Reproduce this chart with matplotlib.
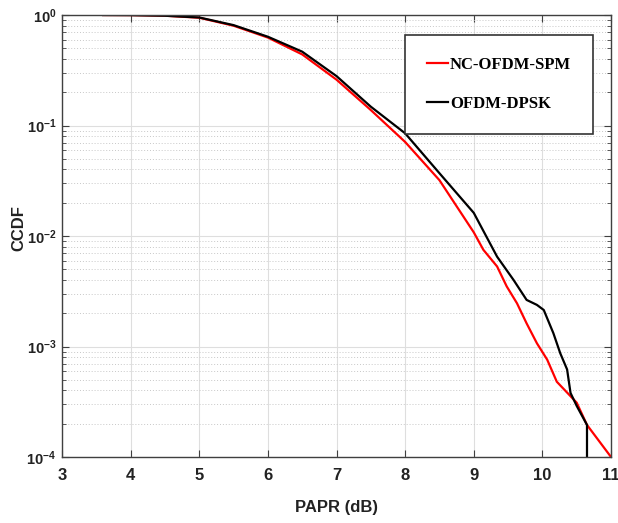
import numpy as np
import matplotlib.pyplot as plt
from matplotlib.ticker import LogLocator, NullFormatter

# data (PAPR in dB, CCDF)
papr_dpsk = [3.6, 4.0, 4.5, 5.0, 5.5, 6.0, 6.5, 7.0, 7.5, 8.0, 8.5, 9.0,
             9.34, 9.58, 9.77, 9.92, 10.02, 10.16, 10.26, 10.36, 10.41,
             10.50, 10.65, 10.65]
ccdf_dpsk = [1.0, 0.998, 0.985, 0.95, 0.81, 0.636, 0.466, 0.28, 0.148,
             0.085, 0.037, 0.0162, 0.0065, 0.0040, 0.00264, 0.00238,
             0.00214, 0.00132, 0.00087, 0.00062, 0.00038, 0.00029,
             0.000195, 0.0001]

papr_spm = [3.6, 4.0, 4.5, 5.0, 5.5, 6.0, 6.5, 7.0, 7.5, 8.0, 8.5, 9.0,
            9.14, 9.34, 9.48, 9.63, 9.77, 9.92, 10.07, 10.21, 10.50,
            10.65, 11.0]
ccdf_spm = [1.0, 0.998, 0.985, 0.945, 0.80, 0.625, 0.44, 0.26, 0.138,
            0.071, 0.032, 0.0108, 0.0075, 0.0053, 0.0035, 0.00246,
            0.00162, 0.00107, 0.00076, 0.00048, 0.00031, 0.000195, 0.0001]

plt.rcParams['font.family'] = ['Liberation Sans', 'DejaVu Sans']
plt.rcParams['font.weight'] = 'bold'
plt.rcParams['mathtext.fontset'] = 'custom'
plt.rcParams['mathtext.rm'] = 'Liberation Sans:bold'
plt.rcParams['mathtext.it'] = 'Liberation Sans:bold'
plt.rcParams['mathtext.bf'] = 'Liberation Sans:bold'

fig = plt.figure(figsize=(6.18, 5.23), dpi=100)
ax = fig.add_axes([0.1003, 0.1262, 0.8884, 0.8451])

ax.semilogy(papr_spm, ccdf_spm, color='#ff0000', lw=1.6, label='NC-OFDM-SPM')
ax.semilogy(papr_dpsk, ccdf_dpsk, color='black', lw=1.6, label='OFDM-DPSK')

ax.set_xlim(3, 11)
ax.set_ylim(1e-4, 1)
ax.set_xticks(range(3, 12))
ax.yaxis.set_major_locator(LogLocator(base=10, numticks=10))
ax.yaxis.set_minor_locator(LogLocator(base=10, subs=np.arange(2, 10), numticks=20))
ax.yaxis.set_minor_formatter(NullFormatter())

ax.grid(True, which='major', color='#dedede', lw=0.8, ls='-')
ax.grid(True, which='minor', axis='y', color='#c8c8c8', lw=0.7, ls=(0, (1, 2)))
ax.set_axisbelow(True)

ax.tick_params(which='both', direction='in', top=True, right=True,
               colors='#404040', labelcolor='#222222')
ax.tick_params(which='major', length=5)
ax.tick_params(which='minor', length=3)
ax.tick_params(axis='x', pad=8, labelsize=12)
ax.tick_params(axis='y', pad=4, labelsize=10.5)
for sp in ax.spines.values():
    sp.set_color('#404040')
    sp.set_linewidth(1.0)

ax.set_xlabel('PAPR (dB)', fontsize=12, fontweight='bold', color='#222222')
ax.set_ylabel('CCDF', fontsize=12, fontweight='bold', color='#222222')
ax.xaxis.set_label_coords(0.5, -0.097)
ax.yaxis.set_label_coords(-0.064, 0.518)

leg = ax.legend(loc='upper right', bbox_to_anchor=(0.982, 0.973),
                prop={'family': 'Liberation Serif', 'weight': 'bold', 'size': 12},
                handlelength=1.3, handletextpad=0.1, labelspacing=1.4,
                borderpad=1.3, fancybox=False, framealpha=1)
leg.get_frame().set_edgecolor('#333333')
leg.get_frame().set_linewidth(1.2)

fig.savefig('out.png', dpi=100)
